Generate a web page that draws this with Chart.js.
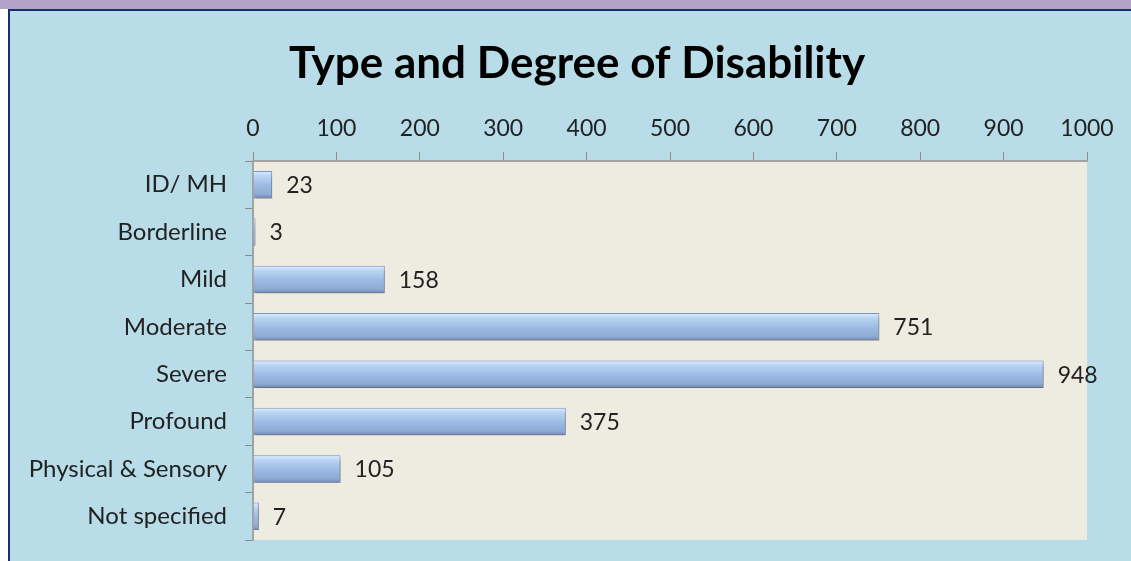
<!DOCTYPE html>
<html>
<head>
<meta charset="utf-8">
<script src="https://cdn.jsdelivr.net/npm/chart.js@4"></script>
<style>
  html, body { margin: 0; padding: 0; width: 1131px; height: 561px; overflow: hidden; background: #ffffff; }
  #band { position: absolute; left: 0; top: 0; width: 1131px; height: 9px; background: #b3a3c9; }
  #frame { position: absolute; left: 8px; top: 9px; width: 1123px; height: 552px; background: #b8dde8;
           border-top: 2px solid #1d2c6c; border-left: 2px solid #1d2c6c; box-sizing: border-box; }
  #wrap { position: absolute; left: 0; top: 0; width: 1131px; height: 561px; }
</style>
</head>
<body>
<div id="band"></div>
<div id="frame"></div>
<div id="wrap"><canvas id="my-chart"></canvas></div>
<script>
var categories = ['ID/ MH', 'Borderline', 'Mild', 'Moderate', 'Severe', 'Profound', 'Physical & Sensory', 'Not specified'];
var counts = [23, 3, 158, 751, 948, 375, 105, 7];
var xTicks = [0, 100, 200, 300, 400, 500, 600, 700, 800, 900, 1000];
var chartTitle = 'Type and Degree of Disability';

var FONT = 'Lato, "Open Sans", sans-serif';
var BAR_PCT = 0.58;

function barFill(context) {
  var chart = context.chart;
  if (!chart.chartArea) return '#9cb9e2';
  var y = chart.scales.y.getPixelForValue(context.dataIndex);
  var h = chart.scales.y.height / categories.length * BAR_PCT;
  var g = chart.ctx.createLinearGradient(0, y - h / 2, 0, y + h / 2);
  g.addColorStop(0, '#dcf0ff');
  g.addColorStop(0.18, '#b9d5f5');
  g.addColorStop(0.5, '#9fbce4');
  g.addColorStop(0.85, '#8eaad6');
  g.addColorStop(1, '#6f86b2');
  return g;
}

var plotBg = {
  id: 'plotBg',
  beforeDraw: function(chart) {
    var a = chart.chartArea, c = chart.ctx;
    c.save();
    c.fillStyle = '#eeebe1';
    c.fillRect(a.left, a.top, a.right - a.left, a.bottom - a.top);
    // title, centred where the original has it
    c.font = 'bold 44px ' + FONT;
    c.fillStyle = '#000000';
    c.textAlign = 'center';
    c.textBaseline = 'middle';
    c.fillText(chartTitle, 577, 64);
    c.restore();
  }
};

var barShadow = {
  id: 'barShadow',
  beforeDatasetsDraw: function(chart) {
    var c = chart.ctx;
    c.save();
    c.shadowColor = 'rgba(60,60,60,0.45)';
    c.shadowBlur = 4;
    c.shadowOffsetX = 1;
    c.shadowOffsetY = 4;
  },
  afterDatasetsDraw: function(chart) {
    chart.ctx.restore();
  }
};

var valueLabels = {
  id: 'valueLabels',
  afterDraw: function(chart) {
    var c = chart.ctx;
    var meta = chart.getDatasetMeta(0);
    c.save();
    c.font = '23px ' + FONT;
    c.fillStyle = '#222222';
    c.textAlign = 'left';
    c.textBaseline = 'middle';
    meta.data.forEach(function(bar, i) {
      c.fillText(String(counts[i]), bar.x + 14, bar.y + 1);
    });
    c.restore();
  }
};

var ctx = document.getElementById('my-chart');
var chart = new Chart(ctx, {
  type: 'bar',
  data: {
    labels: categories,
    datasets: [{
      data: counts,
      backgroundColor: barFill,
      borderColor: '#7d94bf',
      borderWidth: 1,
      categoryPercentage: 1,
      barPercentage: BAR_PCT
    }]
  },
  options: {
    indexAxis: 'y',
    responsive: false,
    animation: false,
    devicePixelRatio: 1,
    layout: { padding: { top: 97, left: 10, right: 35, bottom: 21 } },
    plugins: {
      legend: { display: false },
      tooltip: { enabled: false },
      title: { display: false }
    },
    scales: {
      x: {
        position: 'top',
        min: 0,
        max: 1000,
        afterFit: function(scale) {
          scale.height = 64;
          scale.paddingLeft = 0;
          scale.paddingRight = 0;
        },
        afterBuildTicks: function(scale) {
          scale.ticks = xTicks.map(function(v) { return { value: v }; });
        },
        ticks: {
          color: '#222222', font: { family: FONT, size: 23 }, padding: 10, maxRotation: 0,
          callback: function(v) { return String(v); }
        },
        grid: { drawOnChartArea: false, tickLength: 9, color: '#8c8c8c', lineWidth: 1 },
        border: { color: '#a3a3a3', width: 2 }
      },
      y: {
        afterFit: function(scale) {
          scale.width = 243;
          scale.paddingTop = 0;
          scale.paddingBottom = 0;
        },
        ticks: { color: '#222222', font: { family: FONT, size: 24 }, padding: 18 },
        grid: { drawOnChartArea: false, offset: true, tickLength: 8, color: '#8c8c8c', lineWidth: 1 },
        border: { color: '#a3a3a3', width: 2 }
      }
    }
  },
  plugins: [plotBg, barShadow, valueLabels]
});
chart.resize(1131, 561);
</script>
</body>
</html>
